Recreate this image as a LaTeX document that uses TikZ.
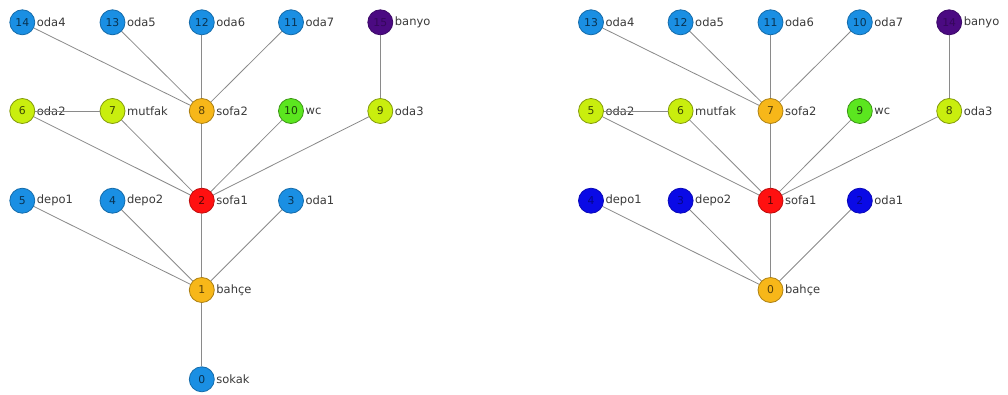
\documentclass[tikz,border=0pt]{standalone}
\usepackage{fontspec}
\setmainfont{DejaVu Sans}
\usetikzlibrary{backgrounds}
\definecolor{cblue}{HTML}{1A8FE3}
\definecolor{corange}{HTML}{F7B719}
\definecolor{cred}{HTML}{FF1010}
\definecolor{cyg}{HTML}{C9EE0E}
\definecolor{cgreen}{HTML}{5BE61F}
\definecolor{cpurple}{HTML}{4B0A82}
\definecolor{cdblue}{HTML}{0A0AE6}
\definecolor{cedge}{HTML}{8A8A8A}
\definecolor{clabel}{HTML}{3A3A3A}
\tikzset{
  vtx/.style={circle, minimum size=25pt, inner sep=0pt, line width=0.8pt,
    font=\fontsize{10.8}{11}\selectfont},
  lbl/.style={anchor=west, inner sep=1.5pt, text=clabel,
    font=\fontsize{11.5}{12}\selectfont},
  lab/.style={label={[lbl]0:#1}},
  bluev/.style={vtx, fill=cblue, draw=cblue!75!black, text=cblue!35!black},
  orangev/.style={vtx, fill=corange, draw=corange!70!black, text=corange!35!black},
  redv/.style={vtx, fill=cred, draw=cred!75!black, text=cred!35!black},
  ygv/.style={vtx, fill=cyg, draw=cyg!65!black, text=cyg!30!black},
  greenv/.style={vtx, fill=cgreen, draw=cgreen!65!black, text=cgreen!30!black},
  purplev/.style={vtx, fill=cpurple, draw=cpurple!80!black, text=cpurple!70!black},
  dbluev/.style={vtx, fill=cdblue, draw=cdblue!80!black, text=cdblue!60!black},
  edge/.style={draw=cedge, line width=0.8pt},
}
\begin{document}
\begin{tikzpicture}[x=1pt, y=-1pt]
\useasboundingbox (0,0) rectangle (1008,394);
% ---------- left graph ----------
\node[bluev, lab=oda4] (L14) at (22.3,22.3) {14};
\node[bluev, lab=oda5] (L13) at (112.5,22.3) {13};
\node[bluev, lab=oda6] (L12) at (201.8,22.3) {12};
\node[bluev, lab=oda7] (L11) at (291,22.3) {11};
\node[purplev, lab=banyo] (L15) at (380.3,22.3) {15};
\node[ygv, lab=oda2] (L6) at (22.3,111) {6};
\node[ygv, lab=mutfak] (L7) at (112.5,111) {7};
\node[orangev, lab=sofa2] (L8) at (201.8,111) {8};
\node[greenv, lab=wc] (L10) at (291,111) {10};
\node[ygv, lab=oda3] (L9) at (380.3,111) {9};
\node[bluev, lab=depo1] (L5) at (22.3,200.7) {5};
\node[bluev, lab=depo2] (L4) at (112.5,200.7) {4};
\node[redv, lab=sofa1] (L2) at (201.8,200.7) {2};
\node[bluev, lab=oda1] (L3) at (291,200.7) {3};
\node[orangev, lab=bahçe] (L1) at (201.8,290) {1};
\node[bluev, lab=sokak] (L0) at (201.8,379.3) {0};
% ---------- right graph ----------
\node[bluev, lab=oda4] (R13) at (591,22.3) {13};
\node[bluev, lab=oda5] (R12) at (680.6,22.3) {12};
\node[bluev, lab=oda6] (R11) at (770.5,22.3) {11};
\node[bluev, lab=oda7] (R10) at (859.8,22.3) {10};
\node[purplev, lab=banyo] (R14) at (949.2,22.3) {14};
\node[ygv, lab=oda2] (R5) at (591,111) {5};
\node[ygv, lab=mutfak] (R6) at (680.6,111) {6};
\node[orangev, lab=sofa2] (R7) at (770.5,111) {7};
\node[greenv, lab=wc] (R9) at (859.8,111) {9};
\node[ygv, lab=oda3] (R8) at (949.2,111) {8};
\node[dbluev, lab=depo1] (R4) at (591,200.7) {4};
\node[dbluev, lab=depo2] (R3) at (680.6,200.7) {3};
\node[redv, lab=sofa1] (R1) at (770.5,200.7) {1};
\node[dbluev, lab=oda1] (R2) at (859.8,200.7) {2};
\node[orangev, lab=bahçe] (R0) at (770.5,290) {0};
% ---------- edges ----------
\begin{scope}[on background layer]
\fill[white] (0,0) rectangle (1008,394);
\draw[edge] (L14) -- (L8);
\draw[edge] (L13) -- (L8);
\draw[edge] (L12) -- (L8);
\draw[edge] (L11) -- (L8);
\draw[edge] (L15) -- (L9);
\draw[edge] (L6) -- (L2);
\draw[edge] (L7) -- (L2);
\draw[edge] (L8) -- (L2);
\draw[edge] (L10) -- (L2);
\draw[edge] (L9) -- (L2);
\draw[edge] (L5) -- (L1);
\draw[edge] (L4) -- (L1);
\draw[edge] (L2) -- (L1);
\draw[edge] (L3) -- (L1);
\draw[edge] (L1) -- (L0);
\draw[edge] (R13) -- (R7);
\draw[edge] (R12) -- (R7);
\draw[edge] (R11) -- (R7);
\draw[edge] (R10) -- (R7);
\draw[edge] (R14) -- (R8);
\draw[edge] (R5) -- (R1);
\draw[edge] (R6) -- (R1);
\draw[edge] (R7) -- (R1);
\draw[edge] (R9) -- (R1);
\draw[edge] (R8) -- (R1);
\draw[edge] (R4) -- (R0);
\draw[edge] (R3) -- (R0);
\draw[edge] (R1) -- (R0);
\draw[edge] (R2) -- (R0);
\end{scope}
% edges that run over the label text
\draw[edge] (L6) -- (L7);
\draw[edge] (R5) -- (R6);
\end{tikzpicture}
\end{document}
